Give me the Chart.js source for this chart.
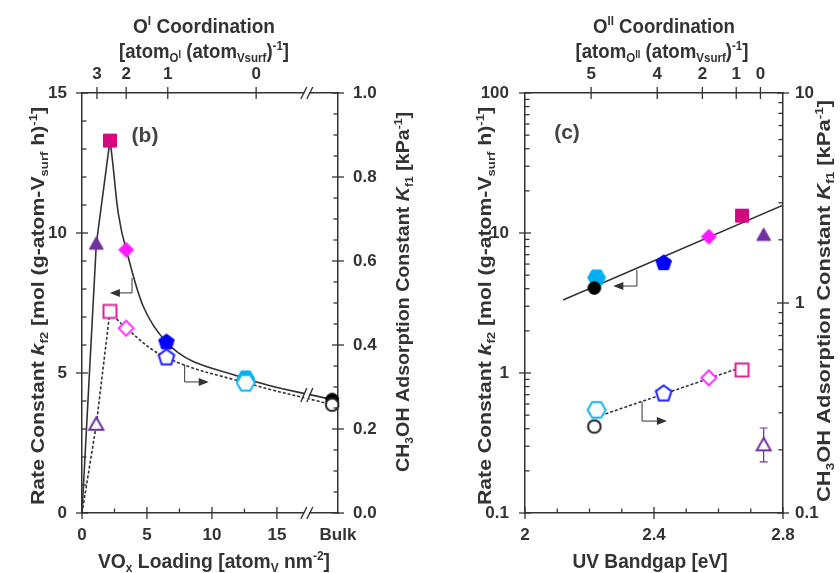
<!DOCTYPE html>
<html lang="en">
<head>
<meta charset="UTF-8">
<title>VOx rate and adsorption constants</title>
<script src="https://cdn.jsdelivr.net/npm/chart.js"></script>
<style>
  body { margin: 0; background: #fff; }
  #wrap { position: relative; width: 840px; height: 573px; }
  canvas { position: absolute; top: 0; }
  #chartB { left: 0; }
  #chartC { left: 420px; }
</style>
</head>
<body>
<div id="wrap">
  <canvas id="chartB" width="420" height="573"></canvas>
  <canvas id="chartC" width="420" height="573"></canvas>
</div>
<script>
const FONT = '"Liberation Sans", Arial, sans-serif';
const INK = '#333';

// samples: triangle, square, diamond, pentagon, hexagon, bulk circle
const loading = [1.1, 2.15, 3.4, 6.5, 12.6, 19.25];   // atom_V nm^-2 (last = bulk)
const bandgap = [2.74, 2.673, 2.57, 2.43, 2.222, 2.215]; // eV
const rateK = [9.6, 13.3, 9.4, 6.1, 4.8, 4.05];
const adsK = [0.21, 0.48, 0.44, 0.37, 0.31, 0.258];
const triErr = [0.175, 0.254];

// trend curves in (b)
const riseX = [0, 1.1, 2.15];
const riseRate = [0, 9.6, 13.3];
const riseAds = [0, 0.21, 0.48];
const fallX = [2.15, 3.4, 6.5, 12.6, 19.25];
const fallRate = [13.3, 9.4, 6.1, 4.8, 4.05];
const fallAds = [0.48, 0.44, 0.37, 0.31, 0.258];

// fit lines in (c)
const fitRateX = [2.118, 2.8];
const fitRate = [3.32, 15.8];
const fitAdsX = [2.22, 2.675];
const fitAds = [0.286, 0.496];

// tick labels
const loadTicks = [0, 5, 10, 15, 19.7];
const loadLabels = ['0', '5', '10', '15', 'Bulk'];
const coordIPos = [1.15, 3.4, 6.6, 13.4];
const coordILabels = ['3', '2', '1', '0'];
const gapTicks = [2, 2.4, 2.8];
const coordIIPos = [2.205, 2.41, 2.55, 2.655, 2.73];
const coordIILabels = ['5', '4', '2', '1', '0'];

const colFill = ['#7030a0', '#d2087e', '#ff1aff', '#0000ff', '#00b0f0', '#000000'];
const colOpen = ['#7030a0', '#e0259a', '#ff33ff', '#1a1aff', '#10b4f0', '#222222'];
const shapes = ['tri', 'sq', 'dia', 'pent', 'hex', 'circ'];

Chart.defaults.font.family = FONT;
Chart.defaults.font.weight = 'bold';
Chart.defaults.font.size = 17;
Chart.defaults.color = INK;

function poly(g, n, r, a0) {
  for (let i = 0; i < n; i++) {
    const a = a0 + i * 2 * Math.PI / n;
    if (i === 0) g.moveTo(r * Math.cos(a), r * Math.sin(a));
    else g.lineTo(r * Math.cos(a), r * Math.sin(a));
  }
  g.closePath();
}

function makeMarker(shape, fill, stroke, lw) {
  const S = 24;
  const c = document.createElement('canvas');
  c.width = S; c.height = S;
  const g = c.getContext('2d');
  g.translate(S / 2, S / 2);
  g.beginPath();
  if (shape === 'tri') { g.moveTo(0, -7.5); g.lineTo(7, 5); g.lineTo(-7, 5); g.closePath(); }
  else if (shape === 'sq') g.rect(-6.5, -6.5, 13, 13);
  else if (shape === 'dia') { g.moveTo(0, -7.5); g.lineTo(7.5, 0); g.lineTo(0, 7.5); g.lineTo(-7.5, 0); g.closePath(); }
  else if (shape === 'pent') poly(g, 5, 8.2, -Math.PI / 2);
  else if (shape === 'hex') poly(g, 6, 9, 0);
  else g.arc(0, 0, 6.3, 0, Math.PI * 2);
  g.fillStyle = fill; g.fill();
  g.lineWidth = lw; g.strokeStyle = stroke; g.stroke();
  return c;
}

const filledMarks = shapes.map((s, i) => makeMarker(s, colFill[i], colFill[i], 1));
const openMarks = shapes.map((s, i) => makeMarker(s, '#fff', colOpen[i], 2));

// text with sub/superscripts, optionally squeezed to a given length
function richText(ctx, parts, x, y, size, rot, len, sy) {
  const spec = k => {
    if (k === 'sub') return { s: size * 0.62, dy: size * 0.22, it: false };
    if (k === 'sup') return { s: size * 0.62, dy: -size * 0.38, it: false };
    if (k === 'subsup') return { s: size * 0.5, dy: size * 0.0, it: false };
    if (k === 'i') return { s: size, dy: 0, it: true };
    return { s: size, dy: 0, it: false };
  };
  ctx.save();
  ctx.translate(x, y);
  if (rot) ctx.rotate(rot);
  let total = 0;
  const items = parts.map(([t, k]) => {
    const sp = spec(k);
    const font = (sp.it ? 'italic ' : '') + 'bold ' + sp.s + 'px ' + FONT;
    ctx.font = font;
    const w = ctx.measureText(t).width;
    total += w;
    return { t, sp, w, font };
  });
  ctx.scale(len ? len / total : 1, sy || 1);
  ctx.textAlign = 'left';
  ctx.textBaseline = 'alphabetic';
  ctx.fillStyle = INK;
  let cx = -total / 2;
  items.forEach(it => {
    ctx.font = it.font;
    ctx.fillText(it.t, cx, size * 0.36 + it.sp.dy);
    cx += it.w;
  });
  ctx.restore();
}

function axisTicks(ctx, scale, majors, minors) {
  const pos = scale.position;
  const horiz = pos === 'top' || pos === 'bottom';
  const edge = pos === 'left' ? scale.right : pos === 'right' ? scale.left : pos === 'top' ? scale.bottom : scale.top;
  const inward = (pos === 'left' || pos === 'top') ? 1 : -1;
  ctx.save();
  ctx.strokeStyle = INK;
  ctx.lineWidth = 1.3;
  const seg = (v, a, b) => {
    const p = scale.getPixelForValue(v);
    ctx.beginPath();
    if (horiz) { ctx.moveTo(p, edge + a * inward); ctx.lineTo(p, edge + b * inward); }
    else { ctx.moveTo(edge + a * inward, p); ctx.lineTo(edge + b * inward, p); }
    ctx.stroke();
  };
  majors.forEach(v => seg(v, -6, 6));
  minors.forEach(v => seg(v, 0, 4.5));
  ctx.restore();
}

function breakMark(ctx, px, py, h) {
  ctx.save();
  ctx.fillStyle = '#fff';
  ctx.fillRect(px - 2.5, py - h / 2, 5, h);
  ctx.strokeStyle = INK;
  ctx.lineWidth = 1.4;
  [-3, 3].forEach(d => {
    ctx.beginPath();
    ctx.moveTo(px + d - 3, py + h / 2 + 1);
    ctx.lineTo(px + d + 3, py - h / 2 - 1);
    ctx.stroke();
  });
  ctx.restore();
}

function bentArrow(ctx, x0, y0, y1, x2) {
  ctx.save();
  ctx.strokeStyle = INK; ctx.fillStyle = INK; ctx.lineWidth = 1;
  ctx.beginPath(); ctx.moveTo(x0, y0); ctx.lineTo(x0, y1); ctx.lineTo(x2, y1); ctx.stroke();
  const dir = Math.sign(x2 - x0);
  ctx.beginPath();
  ctx.moveTo(x2 + dir * 2, y1);
  ctx.lineTo(x2 - dir * 8, y1 - 4);
  ctx.lineTo(x2 - dir * 8, y1 + 4);
  ctx.closePath(); ctx.fill();
  ctx.restore();
}

function panelLabel(ctx, txt, x, y) {
  ctx.save();
  ctx.font = 'bold 21px ' + FONT;
  ctx.fillStyle = '#444';
  ctx.textAlign = 'center';
  ctx.textBaseline = 'middle';
  ctx.fillText(txt, x, y);
  ctx.restore();
}

const rateTitle = [['Rate Constant ', 'n'], ['k', 'i'], ['f2', 'sub'], [' [mol (g-atom-V', 'n'], ['surf', 'sub'], [' h)', 'n'], ['-1', 'sup'], [']', 'n']];
const adsTitle = [['CH', 'n'], ['3', 'sub'], ['OH Adsorption Constant ', 'n'], ['K', 'i'], ['f1', 'sub'], [' [kPa', 'n'], ['-1', 'sup'], [']', 'n']];

function fixedTicks(vals) {
  return s => { s.ticks = vals.map(v => ({ value: v })); };
}

function baseScale(extra) {
  return Object.assign({
    type: 'linear',
    grid: { display: false, drawTicks: false },
    border: { color: INK, width: 1.5 },
    ticks: { autoSkip: false, maxRotation: 0, padding: 12 }
  }, extra);
}

const minorB = [], minorBR = [];
for (let v = 1; v < 15; v++) if (v % 5) minorB.push(v);
for (let i = 1; i < 20; i++) if (i % 4) minorBR.push(i * 0.05);
const minorLog = [];
[0.1, 1, 10].forEach(d => { for (let k = 2; k <= 9; k++) minorLog.push(d * k); });

const decoB = {
  id: 'decoB',
  afterDraw(chart) {
    const ctx = chart.ctx, s = chart.scales;
    axisTicks(ctx, s.y, [0, 5, 10, 15], minorB);
    axisTicks(ctx, s.yR, [0, 0.2, 0.4, 0.6, 0.8, 1.0], minorBR);
    axisTicks(ctx, s.x, [0, 5, 10, 15], [2.5, 7.5, 12.5]);
    axisTicks(ctx, s.xTop, coordIPos, []);
    const bx = s.x.getPixelForValue(17.3);
    breakMark(ctx, bx, s.x.top, 10);
    breakMark(ctx, bx, s.xTop.bottom, 10);
    breakMark(ctx, bx, (s.y.getPixelForValue(4.35) + s.yR.getPixelForValue(0.272)) / 2, 12);
    bentArrow(ctx, s.x.getPixelForValue(3.85), s.y.getPixelForValue(8.4), s.y.getPixelForValue(7.86), s.x.getPixelForValue(2.3));
    bentArrow(ctx, s.x.getPixelForValue(7.9), s.y.getPixelForValue(5.29), s.y.getPixelForValue(4.68), s.x.getPixelForValue(9.6));
    panelLabel(ctx, '(b)', 145, 136);
    richText(ctx, [['O', 'n'], ['I', 'sup'], [' Coordination', 'n']], 204, 25, 19, 0, 142, 1.1);
    richText(ctx, [['[atom', 'n'], ['O', 'sub'], ['I', 'subsup'], [' (atom', 'n'], ['Vsurf', 'sub'], [')', 'n'], ['-1', 'sup'], [']', 'n']], 204, 50, 19, 0, 170, 1.1);
    richText(ctx, [['VO', 'n'], ['x', 'sub'], [' Loading [atom', 'n'], ['V', 'sub'], [' nm', 'n'], ['-2', 'sup'], [']', 'n']], 214, 560, 19, 0, 232, 1.1);
    richText(ctx, rateTitle, 37, 306, 19, -Math.PI / 2, 398);
    richText(ctx, adsTitle, 402, 292, 19, -Math.PI / 2, 360);
  }
};

const decoC = {
  id: 'decoC',
  beforeDatasetsDraw(chart) {
    const ctx = chart.ctx, s = chart.scales;
    const px = s.x.getPixelForValue(bandgap[0]);
    const lo = s.yR.getPixelForValue(triErr[0]), hi = s.yR.getPixelForValue(triErr[1]);
    ctx.save();
    ctx.strokeStyle = colOpen[0]; ctx.lineWidth = 1.2;
    ctx.beginPath();
    ctx.moveTo(px, lo); ctx.lineTo(px, hi);
    ctx.moveTo(px - 4, lo); ctx.lineTo(px + 4, lo);
    ctx.moveTo(px - 4, hi); ctx.lineTo(px + 4, hi);
    ctx.stroke();
    ctx.restore();
  },
  afterDraw(chart) {
    const ctx = chart.ctx, s = chart.scales;
    axisTicks(ctx, s.y, [0.1, 1, 10, 100], minorLog);
    axisTicks(ctx, s.yR, [0.1, 1, 10], minorLog.slice(0, 16));
    axisTicks(ctx, s.x, gapTicks, [2.1, 2.2, 2.3, 2.5, 2.6, 2.7]);
    axisTicks(ctx, s.xTop, coordIIPos, []);
    bentArrow(ctx, s.x.getPixelForValue(2.347), s.y.getPixelForValue(5.44), s.y.getPixelForValue(4.18), s.x.getPixelForValue(2.28));
    bentArrow(ctx, s.x.getPixelForValue(2.363), s.yR.getPixelForValue(0.338), s.yR.getPixelForValue(0.274), s.x.getPixelForValue(2.434));
    panelLabel(ctx, '(c)', 147, 133);
    richText(ctx, [['O', 'n'], ['II', 'sup'], [' Coordination', 'n']], 244, 25, 19, 0, 142, 1.1);
    richText(ctx, [['[atom', 'n'], ['O', 'sub'], ['II', 'subsup'], [' (atom', 'n'], ['Vsurf', 'sub'], [')', 'n'], ['-1', 'sup'], [']', 'n']], 242, 50, 19, 0, 173, 1.1);
    richText(ctx, [['UV Bandgap [eV]', 'n']], 230, 560, 19, 0, 155, 1.1);
    richText(ctx, rateTitle, 64, 306, 19, -Math.PI / 2, 398);
    richText(ctx, adsTitle, 403, 301, 19, -Math.PI / 2, 402);
  }
};

function pts(xs, ys) { return xs.map((x, i) => ({ x: x, y: ys[i] })); }

function lineSet(data, axis, dashed, tension) {
  return {
    data: data, yAxisID: axis, showLine: true, pointRadius: 0,
    borderColor: INK, borderWidth: 1.6, borderDash: dashed ? [3, 2] : [],
    tension: tension, fill: false
  };
}

function markSet(data, axis, marks) {
  return { data: data, yAxisID: axis, showLine: false, pointStyle: marks, pointRadius: 7, clip: false };
}

const common = {
  responsive: false,
  animation: false,
  events: [],
  layout: { padding: 0 },
  plugins: { legend: { display: false }, tooltip: { enabled: false } }
};

new Chart(document.getElementById('chartB'), {
  type: 'scatter',
  data: {
    datasets: [
      markSet(pts(loading, adsK), 'yR', openMarks),
      markSet(pts(loading, rateK), 'y', filledMarks),
      lineSet(pts(riseX, riseRate), 'y', false, 0),
      lineSet(pts(fallX, fallRate), 'y', false, 0.4),
      lineSet(pts(riseX, riseAds), 'yR', true, 0),
      lineSet(pts(fallX, fallAds), 'yR', true, 0.4)
    ]
  },
  options: Object.assign({}, common, {
    scales: {
      x: baseScale({ position: 'bottom', min: 0, max: 19.7, afterBuildTicks: fixedTicks(loadTicks),
        ticks: { autoSkip: false, maxRotation: 0, padding: 12, callback: (v, i) => loadLabels[i] },
        afterFit: s => { s.height = 60; } }),
      xTop: baseScale({ position: 'top', min: 0, max: 19.7, afterBuildTicks: fixedTicks(coordIPos),
        ticks: { autoSkip: false, maxRotation: 0, padding: 8, callback: (v, i) => coordILabels[i] },
        afterFit: s => { s.height = 93; } }),
      y: baseScale({ position: 'left', min: 0, max: 15, afterBuildTicks: fixedTicks([0, 5, 10, 15]),
        ticks: { autoSkip: false, padding: 15, callback: v => String(v) },
        afterFit: s => { s.width = 82; } }),
      yR: baseScale({ position: 'right', min: 0, max: 1, afterBuildTicks: fixedTicks([0, 0.2, 0.4, 0.6, 0.8, 1]),
        ticks: { autoSkip: false, padding: 15, callback: v => v.toFixed(1) },
        afterFit: s => { s.width = 82; } })
    }
  }),
  plugins: [decoB]
});

new Chart(document.getElementById('chartC'), {
  type: 'scatter',
  data: {
    datasets: [
      markSet(pts(bandgap, adsK), 'yR', openMarks),
      markSet(pts(bandgap, rateK), 'y', filledMarks),
      lineSet(pts(fitRateX, fitRate), 'y', false, 0),
      lineSet(pts(fitAdsX, fitAds), 'yR', true, 0)
    ]
  },
  options: Object.assign({}, common, {
    scales: {
      x: baseScale({ position: 'bottom', min: 2, max: 2.8, afterBuildTicks: fixedTicks(gapTicks),
        ticks: { autoSkip: false, maxRotation: 0, padding: 12, callback: v => String(v) },
        afterFit: s => { s.height = 60; } }),
      xTop: baseScale({ position: 'top', min: 2, max: 2.8, afterBuildTicks: fixedTicks(coordIIPos),
        ticks: { autoSkip: false, maxRotation: 0, padding: 8, callback: (v, i) => coordIILabels[i] },
        afterFit: s => { s.height = 93; } }),
      y: baseScale({ type: 'logarithmic', position: 'left', min: 0.1, max: 100, afterBuildTicks: fixedTicks([0.1, 1, 10, 100]),
        ticks: { autoSkip: false, padding: 16, callback: v => String(v) },
        afterFit: s => { s.width = 105; } }),
      yR: baseScale({ type: 'logarithmic', position: 'right', min: 0.1, max: 10, afterBuildTicks: fixedTicks([0.1, 1, 10]),
        ticks: { autoSkip: false, padding: 12, callback: v => String(v) },
        afterFit: s => { s.width = 57; } })
    }
  }),
  plugins: [decoC]
});
</script>
</body>
</html>
